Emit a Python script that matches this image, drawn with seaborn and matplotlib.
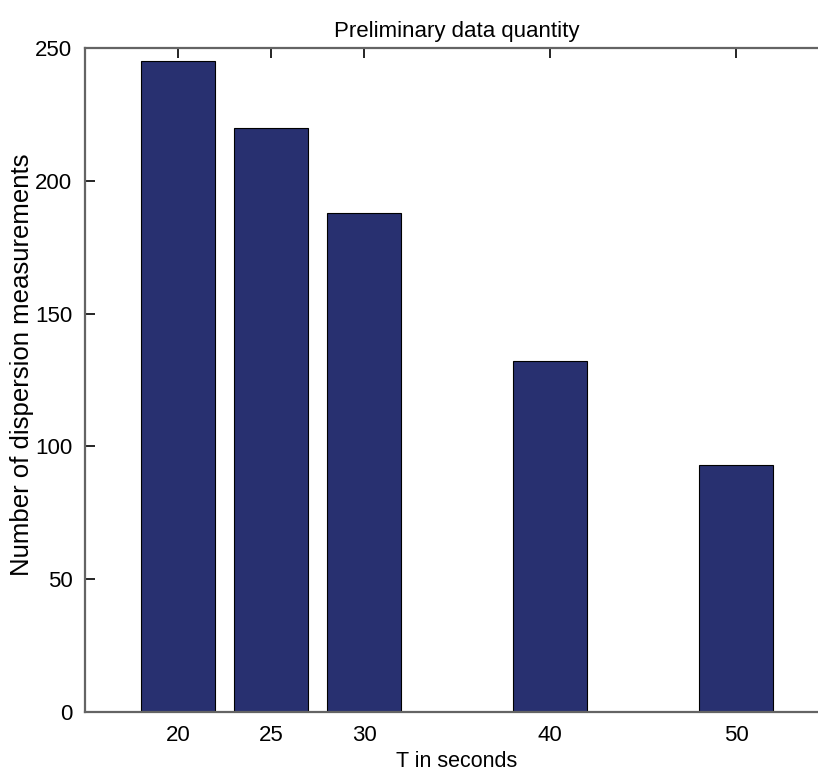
import matplotlib
matplotlib.use("Agg")
import matplotlib.pyplot as plt
import seaborn as sns
import pandas as pd

# -----------------------
# Data
# -----------------------

periods = [20, 25, 30, 40, 50]
counts = [245, 220, 188, 132, 93]

df = pd.DataFrame({"T": periods, "n": counts})

sns.set_style("white")
plt.rcParams["font.family"] = ["Liberation Sans", "DejaVu Sans"]
plt.rcParams["text.color"] = "black"
plt.rcParams["axes.labelcolor"] = "black"
plt.rcParams["xtick.color"] = "black"
plt.rcParams["ytick.color"] = "black"

fig = plt.figure(figsize=(8.18, 7.78), dpi=100)
ax = fig.add_axes([0.1039, 0.0848, 0.9096, 0.8535])

sns.barplot(
    data=df,
    x="T",
    y="n",
    native_scale=True,
    width=0.8,
    color="#283070",
    saturation=1,
    edgecolor="black",
    linewidth=0.8,
    ax=ax
)

ax.set_xlim(15, 55)
ax.set_ylim(0, 250)
ax.set_xticks(periods)
ax.set_yticks([0, 50, 100, 150, 200, 250])

for side in ["left", "bottom", "top", "right"]:
    ax.spines[side].set_visible(True)
    ax.spines[side].set_color("#646464")
    ax.spines[side].set_linewidth(1.6)

ax.tick_params(
    direction="in",
    length=7,
    width=1.2,
    color="black",
    labelcolor="black",
    labelsize=16,
    top=True,
    right=True,
    left=True,
    bottom=True,
    pad=9
)

ax.set_xlabel("T in seconds", fontsize=15.5, labelpad=4)
ax.set_ylabel("Number of dispersion measurements", fontsize=18.5)
ax.yaxis.set_label_coords(-0.068, 0.523)
ax.set_title("Preliminary data quantity", fontsize=16, pad=8)

fig.savefig("out.png", dpi=100)
plt.close(fig)
